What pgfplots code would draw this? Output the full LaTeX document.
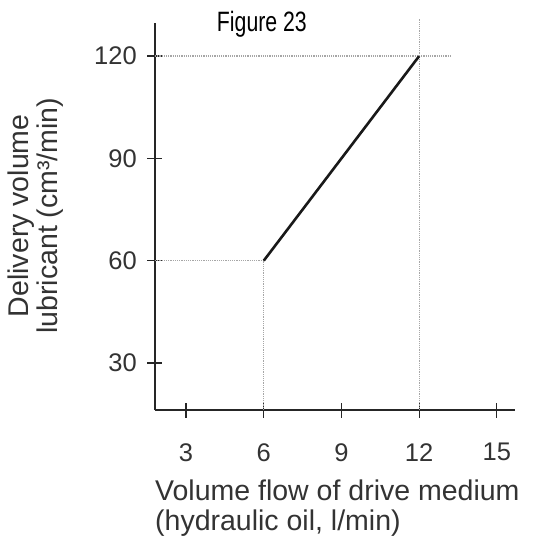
\documentclass[border=0pt]{standalone}
\usepackage{pgfplots}
\pgfplotsset{compat=1.18}
\usepackage{fontspec}
\setmainfont{Liberation Sans}
\newfontfamily\narrowfont[FakeStretch=0.76]{Liberation Sans}
\begin{document}
\begin{tikzpicture}[x=1pt,y=1pt]
\useasboundingbox (-155,-129) rectangle (379,410);
\begin{axis}[
  at={(0,0)}, anchor=south west,
  scale only axis, width=360pt, height=387pt,
  xmin=1.8, xmax=15.7, ymin=16.2, ymax=129.7,
  clip=false,
  axis x line=bottom, axis y line=left,
  axis line style={-, line width=1.8pt, black!85},
  xtick={3,6,9,12,15}, ytick={30,60,90,120},
  tick align=center, major tick length=15pt,
  tick style={line width=1.2pt, black!85},
  /pgf/number format/assume math mode=true,
  tick label style={font=\fontsize{25.5}{25.5}\selectfont, inner sep=0pt, text=black!80},
  xticklabel style={anchor=north, yshift=-25.5pt},
  yticklabel style={anchor=east, xshift=-10.5pt},
  xlabel={Volume flow of drive medium\\(hydraulic oil, l/min)},
  ylabel={Delivery volume\\lubricant (cm³/min)},
  every axis x label/.style={at={(axis description cs:0,-0.181)}, anchor=north west, inner sep=0pt, align=left, font=\fontsize{28.5}{30}\selectfont, text=black!80},
  every axis y label/.style={at={(axis description cs:-0.408,0.502)}, rotate=90, anchor=north, inner sep=0pt, align=center, font=\fontsize{28.5}{29}\selectfont, text=black!80},
  title={\narrowfont Figure 23},
  every axis title/.style={at={(axis description cs:0.297,0.977)}, anchor=base, inner sep=0pt, font=\fontsize{28}{28}\selectfont, text=black},
]
\addplot[gray!70, densely dotted, line width=1.2pt] coordinates {(1.8,120) (13.2,120)};
\addplot[gray!70, densely dotted, line width=1.2pt] coordinates {(12,16.2) (12,131)};
\addplot[gray!70, densely dotted, line width=1.2pt] coordinates {(1.8,60) (6,60)};
\addplot[gray!70, densely dotted, line width=1.2pt] coordinates {(6,16.2) (6,60)};
\addplot[black!90, line width=2.6pt] coordinates {(6,60) (12,120)};
\end{axis}
\end{tikzpicture}
\end{document}
